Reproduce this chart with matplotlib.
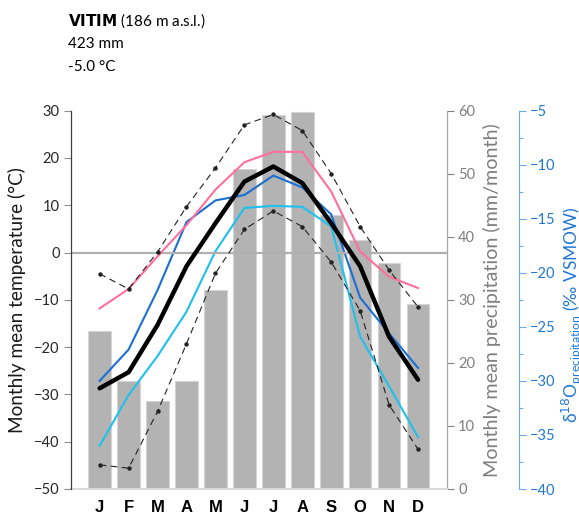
import matplotlib
matplotlib.use("Agg")
import matplotlib.pyplot as plt
import numpy as np

plt.rcParams['font.family'] = ['Lato', 'DejaVu Sans']

months = ["J", "F", "M", "A", "M", "J", "J", "A", "S", "O", "N", "D"]

# monthly precipitation (mm/month)
precip = [25.0, 17.1, 13.9, 17.1, 31.6, 50.8, 59.3, 59.8, 43.5, 39.5, 35.9, 29.3]

# monthly mean, mean max and mean min air temperature (°C)
t_mean = [-28.7, -25.3, -15.3, -2.9, 6.2, 15.0, 18.2, 14.7, 6.2, -2.9, -17.8, -26.9]
t_max = [-4.5, -7.7, 0.1, 9.7, 17.9, 27.0, 29.2, 25.8, 16.7, 5.5, -3.7, -11.5]
t_min = [-44.9, -45.6, -33.6, -19.3, -4.4, 4.9, 8.8, 5.5, -2.0, -12.3, -32.2, -41.6]
t_pink = [-11.8, -7.7, -0.8, 5.8, 13.3, 19.1, 21.3, 21.3, 12.9, 0.2, -5.1, -7.5]

# δ18O in precipitation (‰ VSMOW)
d18o_a = [-30.0, -27.1, -21.6, -15.3, -13.3, -12.8, -11.0, -12.1, -14.6, -22.3, -25.6, -28.8]
d18o_b = [-36.0, -31.3, -27.7, -23.6, -18.0, -14.0, -13.8, -13.9, -15.7, -25.9, -30.5, -35.2]

x = np.arange(len(months))

fig = plt.figure(figsize=(5.79, 5.15), dpi=100)
ax = fig.add_axes([70.7 / 579, 1 - 489 / 515, (447 - 70.7) / 579, (489 - 110.7) / 515])

gray = '#7f7f7f'
blue = '#1f78d6'

# precipitation bars on the host axes (right-hand gray scale)
ax.bar(x, precip, width=0.78, color='#b3b3b3', edgecolor='#d4d4d4', linewidth=0.8, zorder=1)
ax.set_xlim(-1, 12)
ax.set_ylim(0, 60)
ax.set_yticks(np.arange(0, 61, 10))
ax.set_xticks(x)
ax.set_xticklabels(months, fontweight='bold', fontsize=12, family=['Liberation Sans', 'DejaVu Sans'])
ax.tick_params(axis='x', length=0, pad=8)
for s in ['top', 'left']:
    ax.spines[s].set_visible(False)
ax.spines['right'].set_color('#a6a6a6')
ax.spines['right'].set_linewidth(0.9)
ax.spines['bottom'].set_color('#d9d9d9')
ax.spines['bottom'].set_linewidth(1.5)

# δ18O axis, offset to the right
ax_d = ax.twinx()
ax_d.spines['right'].set_position(('axes', 1.192))
for s in ['top', 'left', 'bottom']:
    ax_d.spines[s].set_visible(False)
ax_d.spines['right'].set_color('#6fa8e6')
ax_d.spines['right'].set_linewidth(0.8)
ax_d.set_ylim(-40, -5)
ax_d.set_yticks(np.arange(-40, -4, 5))
ax_d.set_yticks(np.arange(-37.5, -5, 5), minor=True)
ax_d.tick_params(axis='y', which='major', colors='#6fa8e6', labelcolor=blue, labelsize=10.5, length=5, width=0.8, pad=3)
ax_d.tick_params(axis='y', which='minor', colors='#6fa8e6', length=3, width=0.8)
ax_d.set_ylabel('δ$^{18}$O$_{\\mathregular{precipitation}}$ (‰ VSMOW)', color=blue, fontsize=12.5)
ax_d.yaxis.set_label_coords((559 - 70.7) / 376.3, 0.46)
ax_d.plot(x, d18o_b, color='#1ec0f0', lw=1.5, zorder=3)
ax_d.plot(x, d18o_a, color='#1a6fd4', lw=1.5, zorder=3)

# temperature axis on the left
ax_t = ax.twinx()
ax_t.yaxis.tick_left()
ax_t.yaxis.set_label_position('left')
for s in ['top', 'right', 'bottom']:
    ax_t.spines[s].set_visible(False)
ax_t.spines['left'].set_color('#404040')
ax_t.spines['left'].set_linewidth(0.9)
ax_t.set_ylim(-50, 30)
ax_t.set_yticks(np.arange(-50, 31, 10))
ax_t.tick_params(axis='y', colors='#8c8c8c', labelcolor='#262626', labelsize=10.5, length=5, width=0.8, pad=3)
ax_t.set_ylabel('Monthly mean temperature (°C)', color='#1a1a1a', fontsize=13.7, labelpad=6)
ax_t.axhline(0, color='#b0b0b0', lw=1.6, zorder=1)
ax_t.plot(x, t_pink, color='#ff6f9c', lw=1.5, zorder=3)
ax_t.plot(x, t_max, color='#222222', lw=0.8, ls=(0, (6, 4)), marker='o', ms=2.2, zorder=4)
ax_t.plot(x, t_min, color='#222222', lw=0.8, ls=(0, (6, 4)), marker='o', ms=2.2, zorder=4)
ax_t.plot(x, t_mean, color='black', lw=3.2, solid_capstyle='round', solid_joinstyle='round', zorder=5)

# precipitation scale on the right of the host (twinx resets it to the left)
ax.yaxis.tick_right()
ax.yaxis.set_label_position('right')
ax.tick_params(axis='y', colors=gray, labelcolor=gray, labelsize=10.5, length=5, width=0.8, pad=3)
ax.set_ylabel('Monthly mean precipitation (mm/month)', color=gray, fontsize=14.2)
ax.yaxis.set_label_coords((483 - 70.7) / 376.3, 0.5)

# station header
fig.text(68 / 579, 1 - 21 / 515, r'$\bf{VITIM}$ (186 m a.s.l.)', fontsize=11, va='center', ha='left')
fig.text(68 / 579, 1 - 44 / 515, '423 mm', fontsize=11, va='center', ha='left')
fig.text(68 / 579, 1 - 67 / 515, '-5.0 °C', fontsize=11, va='center', ha='left')

fig.savefig('out.png', dpi=100)
